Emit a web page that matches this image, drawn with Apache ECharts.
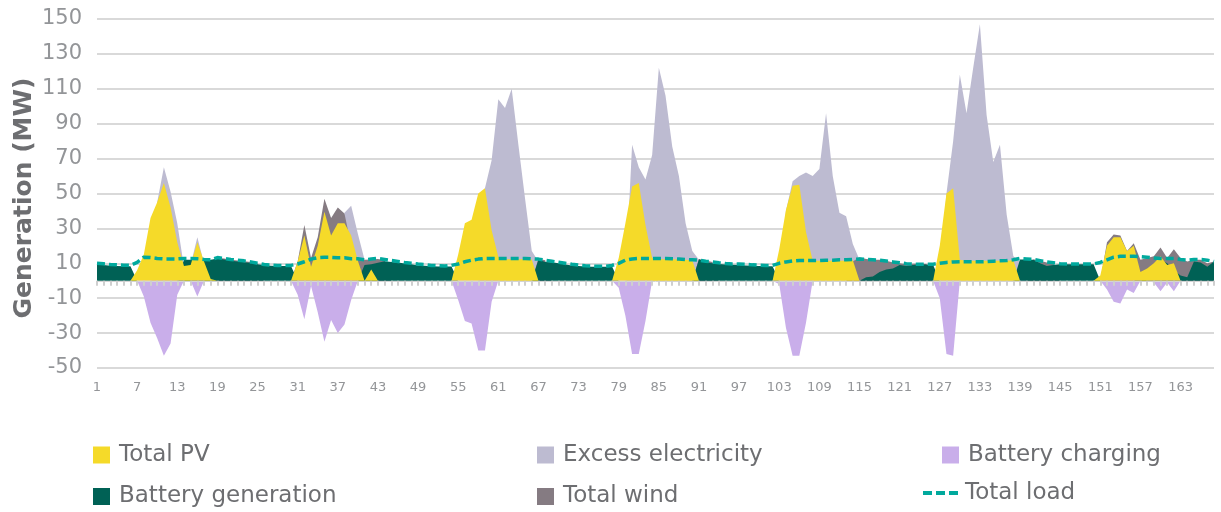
<!DOCTYPE html>
<html><head><meta charset="utf-8">
<script src="https://cdn.jsdelivr.net/npm/echarts@6/dist/echarts.min.js"></script>
<style>html,body{margin:0;padding:0;background:#fff}#c{width:1221px;height:512px}</style>
</head><body><div id="c"></div><script>
const hours = [
  1,2,3,4,5,6,7,8,9,10,11,12,13,14,15,16,17,18,19,20,21,22,23,24,
  25,26,27,28,29,30,31,32,33,34,35,36,37,38,39,40,41,42,43,44,45,46,47,48,
  49,50,51,52,53,54,55,56,57,58,59,60,61,62,63,64,65,66,67,68,69,70,71,72,
  73,74,75,76,77,78,79,80,81,82,83,84,85,86,87,88,89,90,91,92,93,94,95,96,
  97,98,99,100,101,102,103,104,105,106,107,108,109,110,111,112,113,114,115,116,117,118,119,120,
  121,122,123,124,125,126,127,128,129,130,131,132,133,134,135,136,137,138,139,140,141,142,143,144,
  145,146,147,148,149,150,151,152,153,154,155,156,157,158,159,160,161,162,163,164,165,166,167,168
];
const totalLoad = [
  10,9.7,9.3,9.2,8.9,8.9, 10.5,13.5,13.3,12.8,12.5,12.5, 12.5,12.8,12.8,12.6,12.2,12, 13.3,12.8,12.2,11.8,11.4,10.8,
  10,9.3,9,8.8,8.8,8.8, 9.6,10.9,12.4,13.2,13.4,13.4, 13.2,13.2,12.6,12.6,12,12.4, 12.8,12.2,11.6,11,10.4,10,
  9.6,9.3,8.8,8.6,8.4,8.8, 9.6,10.9,11.8,12.4,12.8,12.8, 12.8,12.8,12.8,12.8,12.8,12.6, 12.4,11.8,11.2,10.6,10,9.4,
  9,8.6,8.4,8.3,8.3,8.8, 10,11.8,12.5,12.8,12.8,12.8, 12.8,12.8,12.6,12.4,12.2,12, 11.8,11.2,10.8,10.3,9.9,9.6,
  9.6,9.4,9.1,8.9,8.7,8.8, 10,10.8,11.3,11.6,11.6,11.6, 11.6,11.8,11.8,12,12,12.2, 12.5,12.2,12,11.8,11.3,10.8,
  10.3,9.8,9.5,9.5,9.5,9.5, 10,10.5,10.8,10.9,10.9,10.9, 10.9,11,11.2,11.4,11.6,12, 12.8,12.5,12.2,11.5,10.8,10.3,
  9.8,9.6,9.6,9.6,9.6,9.6, 10.5,12,13.5,14,14,14, 13.8,13.5,13,12.8,12.8,12.8, 12.2,11.8,12.2,12.2,11.8,11
];
const batteryGeneration = [
  9.2,9,8.6,8.5,8.3,8.3, 0,0,0,0,0,0, 0,12,12,12,12,12, 12.8,12.2,11.5,11,10.6,10.2,
  9.5,9,8.6,8.4,8.4,8.4, 0,0,0,0,0,0, 0,0,0,0,9,9.4, 10.3,11.2,10.8,10.4,9.9,9.5,
  8.8,8.6,8.3,8.2,8.1,8.1, 0,0,0,0,0,0, 0,0,0,0,0,0, 12.2,10.8,10.6,10,9.3,8.8,
  8.4,8.1,8,8,8,8.1, 0,0,0,0,0,0, 0,0,0,0,0,0, 12.3,10.5,10,9.6,9.3,9.1,
  9,8.8,8.6,8.4,8.3,8.3, 0,0,0,0,0,0, 0,0,0,0,0,0, 0,2,2.5,5,6.5,7,
  9,8.5,9,9.3,9.3,9.2, 0,0,0,0,0,0, 0,0,0,0,0,0, 12.2,12.2,12,10,8.4,9,
  9.5,9.4,9.4,9.4,9.4,9.4, 0,0,0,0,0,0, 4,6,8,12,10,6, 3,2,11,10.5,8,11
];
const totalPV = [
  0,0,0,0,0,0, 6,15,36,45,56,42, 22,8.5,9,22,11,1, 0,0,0,0,0,0,
  0,0,0,0,0,0, 11,26,8,20,39.5,26, 33,33,26,11.5,0,6.5, 0,0,0,0,0,0,
  0,0,0,0,0,0, 15,33,35,50,53,29, 13.7,12.3,12.3,12.3,12.3,12.2, 0,0,0,0,0,0,
  0,0,0,0,0,0, 13,33,54,56,32,13, 12.3,12.3,12.3,12.2,12,11.8, 0,0,0,0,0,0,
  0,0,0,0,0,0, 18,40.5,54.5,55,28,11.5, 11.5,11.5,11.5,11.5,11.5,11.8, 0,0,0,0,0,0,
  0,0,0,0,0,0, 20,50,53,12,11.5,11.5, 11.5,11.5,11.5,11.5,11.5,11.8, 0,0,0,0,0,0,
  0,0,0,0,0,0, 3,20,25,25,17,20, 5,7,10,14,9,10, 0,0,0,0,0,0
];
const totalWind = [
  0,0,0,0,0,0, 0,0,0,0,0,0, 0,0,0,0,0,0, 13.2,12.8,12.1,11.6,11.2,10.7,
  10,0,0,0,0,0, 11,32,13,25,47,36, 42,38.6,20,12,12,12.2, 12.5,11.8,0,0,0,0,
  0,0,0,0,0,0, 0,0,0,0,0,0, 0,0,0,0,0,0, 12.6,11.8,0,0,0,0,
  0,0,0,0,0,0, 0,0,0,0,0,0, 0,0,0,0,0,0, 12.4,11.6,10.8,0,0,0,
  0,0,0,0,0,0, 0,0,0,0,0,0, 0,0,0,0,0,11, 13.5,12.5,12,12,11.5,10.5,
  10,9.5,9.8,9.8,9.6,0, 0,0,0,0,0,0, 0,0,0,0,0,0, 0,0,12.3,11.5,10.5,10,
  0,0,0,0,0,0, 0,22,26.5,26,17,21.5, 12,13,14,19,13,18, 13,11,12,12,10,11
];
const excessElectricity = [
  0,0,0,0,0,0, 0,0,0,45,65,51, 33,8,9,25,10,0, 0,0,0,0,0,0,
  0,0,0,0,0,0, 0,0,0,0,0,0, 0,39,43,27,12,0, 0,0,0,0,0,0,
  0,0,0,0,0,0, 0,0,0,0,53,69, 104,99,110,78,47,17, 11,0,0,0,0,0,
  0,0,0,0,0,0, 0,0,78,65,58,72, 122,106,77,60,33,17, 12,0,0,0,0,0,
  0,0,0,0,0,0, 0,40,57,60,62,60, 64,96,60,39,37,21, 12,0,0,0,0,0,
  0,0,0,0,0,0, 0,50,80,118,96,122, 147,95,68,78,38,14, 11,0,0,0,0,0,
  0,0,0,0,0,0, 0,0,0,0,0,0, 0,0,0,0,0,0, 0,0,0,0,0,0
];
const batteryCharging = [
  0,0,0,0,0,0, 0,-9,-24,-33,-43,-36, -8,0,0,-9,0,0, 0,0,0,0,0,0,
  0,0,0,0,0,0, -8,-22,-3,-18,-35,-22.5, -30,-25,-11,0,0,0, 0,0,0,0,0,0,
  0,0,0,0,0,0, -11,-23,-24.5,-40,-40,-12, 0,0,0,0,0,0, 0,0,0,0,0,0,
  0,0,0,0,0,0, -4,-20,-42,-42,-23,0, 0,0,0,0,0,0, 0,0,0,0,0,0,
  0,0,0,0,0,0, -2,-27,-43,-43,-24,0, 0,0,0,0,0,0, 0,0,0,0,0,0,
  0,0,0,0,0,0, -10,-42,-43,0,0,0, 0,0,0,0,0,0, 0,0,0,0,0,0,
  0,0,0,0,0,0, 0,-5,-12,-13,-5,-7, 0,0,-1,-6,-1,-6, 0,0,0,0,0,0
];
const yTicks = {min: -50, max: 150, interval: 20};

const FONT = 'DejaVu Sans';
const C = {pv:'#F5DA29', excess:'#BDBBD1', charge:'#C9AEEA', batt:'#006155', wind:'#857B82', load:'#00A99D'};

function area(name, data, color, xi) {
  return {name, type:'line', data, xAxisIndex: xi || 0, symbol:'none', showSymbol:false, silent:true,
    lineStyle:{width:0, opacity:0}, itemStyle:{color}, areaStyle:{color, opacity:1}, emphasis:{disabled:true}};
}
function lg(item, left, top, extra) {
  return Object.assign({data:[item], left, top, orient:'horizontal', padding:0, itemWidth:17, itemHeight:17,
    icon:'rect', selectedMode:false,
    textStyle:{color:'#6d6e71', fontSize:23, fontFamily:FONT, padding:[0,0,0,4]}}, extra || {});
}

const chart = echarts.init(document.getElementById('c'), null, {renderer:'canvas'});
chart.setOption({
  animation:false,
  backgroundColor:'#fff',
  grid:{left:97, right:7, top:19, bottom:144},
  xAxis:[
    {type:'category', data:hours, boundaryGap:false, position:'bottom',
     axisLine:{show:false, onZero:false}, axisTick:{show:false}, splitLine:{show:false},
     axisLabel:{interval:5, color:'#939598', fontSize:13, fontFamily:FONT, margin:13}},
    {type:'category', data:hours, boundaryGap:false, position:'bottom', z:5,
     axisLine:{show:true, onZero:true, lineStyle:{color:'#d4d4d4', width:1}},
     axisTick:{show:true, interval:0, length:5, lineStyle:{color:'#cfcfcf', width:2}},
     axisLabel:{show:false}, splitLine:{show:false}}
  ],
  yAxis:{type:'value', min:yTicks.min, max:yTicks.max, interval:yTicks.interval,
    axisLine:{show:false}, axisTick:{show:false},
    axisLabel:{color:'#939598', fontSize:21, fontFamily:FONT, margin:15},
    splitLine:{lineStyle:{color:'#d9d9d9', width:2}}},
  graphic:[{type:'text', x:24, y:198, rotation:Math.PI/2,
    style:{text:'Generation (MW)', fill:'#6d6e71', fontSize:25, fontWeight:'bold', fontFamily:FONT,
      align:'center', verticalAlign:'middle'}}],
  legend:[
    lg('Total PV', 93, 443.5),
    lg('Excess electricity', 537, 443.5),
    lg('Battery charging', 942, 443.5),
    lg('Battery generation', 93, 485),
    lg('Total wind', 537, 485),
    lg({name:'Total load', icon:'path://M0,0H9V4H0ZM13,0H22V4H13ZM26,0H35V4H26Z'}, 923, 481.5,
       {itemWidth:35, itemHeight:4, textStyle:{color:'#6d6e71', fontSize:23, fontFamily:FONT, padding:[0,0,0,2]}})
  ],
  series:[
    area('Excess electricity', excessElectricity, C.excess),
    area('Total wind', totalWind, C.wind),
    area('Battery generation', batteryGeneration, C.batt),
    area('Total PV', totalPV, C.pv),
    area('Battery charging', batteryCharging, C.charge),
    {name:'Total load', type:'line', data:totalLoad, xAxisIndex:1, symbol:'none', showSymbol:false, silent:true,
     itemStyle:{color:C.load}, lineStyle:{color:C.load, width:3.5, type:[8,4]}, emphasis:{disabled:true}, z:4}
  ]
});
</script></body></html>
